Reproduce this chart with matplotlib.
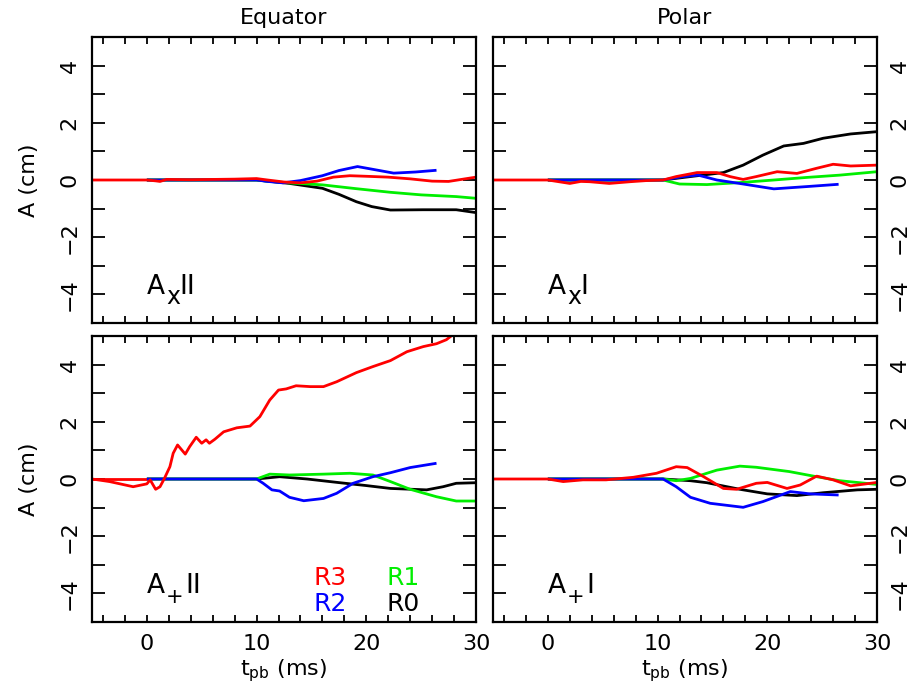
import matplotlib
matplotlib.use("Agg")
import matplotlib.pyplot as plt
from matplotlib.ticker import MultipleLocator
from matplotlib.transforms import offset_copy

plt.rcParams['font.family'] = ['DejaVu Sans']
plt.rcParams['mathtext.default'] = 'regular'

RED, GREEN, BLUE, BLACK = '#ff0000', '#00ee00', '#0000ff', '#000000'

# ---------------- Equator, A_x ----------------
eqx_r3_t = [-5, -3, 0, 0.8, 1.2, 1.8, 4, 6, 8, 10, 11, 12.5, 14, 15.5, 17, 18.5, 20, 22, 24, 26, 27.5, 30]
eqx_r3_a = [0, 0, 0, -0.03, -0.05, 0.02, 0.01, 0.02, 0.03, 0.05, 0.0, -0.07, -0.1, -0.04, 0.1, 0.15, 0.13, 0.1, 0.04, -0.04, -0.05, 0.1]
eqx_r2_t = [0, 5, 10, 11, 12.4, 14, 16, 17.5, 19.2, 20.5, 22.5, 24.5, 26.4]
eqx_r2_a = [0, 0, 0, -0.05, -0.1, -0.02, 0.15, 0.33, 0.47, 0.38, 0.24, 0.28, 0.34]
eqx_r1_t = [0, 5, 10, 11, 13, 16, 19, 22.2, 25, 28.2, 30]
eqx_r1_a = [0, 0, 0, -0.04, -0.1, -0.17, -0.3, -0.43, -0.52, -0.58, -0.64]
eqx_r0_t = [0, 5, 10, 11, 13, 16, 17.5, 19.1, 20.5, 22.2, 25.2, 28.2, 30]
eqx_r0_a = [0, 0, 0, -0.04, -0.12, -0.29, -0.5, -0.76, -0.93, -1.05, -1.04, -1.04, -1.14]

# ---------------- Polar, A_x ----------------
plx_r3_t = [-5, 0, 0.5, 2, 3, 3.8, 5, 5.6, 7.5, 9, 10.5, 11.7, 13.6, 15.4, 16.6, 17.8, 19, 20.9, 22.7, 24.5, 26, 27.6, 30]
plx_r3_a = [0, 0, -0.03, -0.12, -0.05, -0.06, -0.1, -0.12, -0.06, -0.02, 0, 0.12, 0.26, 0.26, 0.12, 0.02, 0.12, 0.29, 0.23, 0.41, 0.55, 0.49, 0.52]
plx_r2_t = [0, 5, 10.5, 12.3, 13.7, 15.4, 17.8, 20.6, 23.6, 26.5]
plx_r2_a = [0, 0, 0, 0.12, 0.17, 0.0, -0.14, -0.31, -0.23, -0.15]
plx_r1_t = [0, 5, 10.5, 12, 14.5, 17.5, 20.6, 23.6, 26.6, 30]
plx_r1_a = [0, 0, 0, -0.14, -0.16, -0.09, 0, 0.09, 0.17, 0.29]
plx_r0_t = [0, 5, 10.5, 13, 16, 17.8, 19.6, 21.5, 23.3, 25.1, 27.6, 30]
plx_r0_a = [0, 0, 0, 0.12, 0.26, 0.52, 0.87, 1.19, 1.28, 1.46, 1.61, 1.69]

# ---------------- Equator, A_+ ----------------
eqp_r3_pre_t = [-5, 0]
eqp_r3_pre_a = [0, 0]
eqp_r3_t = [-5, -3.4, -1.25, 0, 0.3, 0.8, 1.2, 1.6, 2.1, 2.4, 2.8, 3.5, 3.9, 4.5, 5.0, 5.4, 5.7, 6.2, 7.0, 8.2, 9.4,
            10.3, 11.2, 12.0, 12.7, 13.6, 14.9, 16.1, 17.3, 19.1, 20.6, 22.2, 23.7, 25.2, 26.4, 27.3, 27.9]
eqp_r3_a = [0, -0.09, -0.27, -0.17, -0.03, -0.36, -0.27, 0.02, 0.43, 0.9, 1.19, 0.87, 1.13, 1.46, 1.25, 1.37, 1.25, 1.39,
            1.65, 1.79, 1.85, 2.18, 2.76, 3.11, 3.15, 3.26, 3.23, 3.23, 3.4, 3.72, 3.93, 4.14, 4.45, 4.63, 4.73, 4.87, 5.05]
eqp_r2_t = [0, 5, 10, 10.6, 11.4, 12.1, 13.0, 14.3, 16.1, 17.3, 18.8, 20.6, 22.2, 24.0, 26.4]
eqp_r2_a = [0, 0, 0, -0.15, -0.38, -0.42, -0.64, -0.76, -0.68, -0.5, -0.15, 0.08, 0.22, 0.4, 0.55]
eqp_r1_t = [0, 5, 10, 11.2, 13, 16.1, 18.5, 20.6, 22.2, 24, 26.4, 28.2, 30]
eqp_r1_a = [0, 0, 0, 0.17, 0.14, 0.17, 0.2, 0.14, -0.09, -0.36, -0.62, -0.77, -0.77]
eqp_r0_t = [0, 5, 10, 12.1, 14.6, 17.6, 20.0, 22.2, 25.5, 27, 28.2, 30]
eqp_r0_a = [0, 0, 0, 0.08, 0, -0.13, -0.23, -0.33, -0.38, -0.27, -0.15, -0.13]

# ---------------- Polar, A_+ ----------------
plp_r3_t = [-5, 0, 1.4, 3.2, 5.3, 7.8, 9.9, 11.7, 12.7, 14.2, 16, 17.2, 19, 20, 21.8, 23, 24.5, 26, 27.6, 30]
plp_r3_a = [0, 0, -0.09, -0.03, -0.03, 0.06, 0.2, 0.43, 0.4, 0.08, -0.33, -0.36, -0.15, -0.12, -0.33, -0.21, 0.1, -0.03, -0.24, -0.12]
plp_r2_t = [0, 5, 10.5, 11.7, 13, 14.8, 17.8, 19.6, 22.1, 23.9, 26.5]
plp_r2_a = [0, 0, 0, -0.27, -0.64, -0.85, -0.99, -0.79, -0.44, -0.52, -0.56]
plp_r1_t = [0, 5, 10.5, 11.7, 13, 15.4, 17.5, 19, 22, 24.5, 26.6, 30]
plp_r1_a = [0, 0, 0, -0.06, 0.02, 0.31, 0.45, 0.41, 0.26, 0.08, -0.06, -0.19]
plp_r0_t = [0, 5, 10.5, 13, 14.5, 17.5, 20, 22.7, 25.1, 28.2, 30]
plp_r0_a = [0, 0, 0, -0.06, -0.13, -0.36, -0.52, -0.58, -0.48, -0.38, -0.36]

titles = ['Equator', 'Polar']
label_main = ['A', 'A', 'A', 'A']
label_sub = ['x', 'x', '+', '+']
label_tail = ['II', 'I', 'II', 'I']
legend_names = ['R3', 'R2', 'R1', 'R0']
x_ticks = [0, 10, 20, 30]
y_ticks = [-4, -2, 0, 2, 4]

panels = [
    [(eqx_r0_t, eqx_r0_a, BLACK), (eqx_r1_t, eqx_r1_a, GREEN), (eqx_r2_t, eqx_r2_a, BLUE), (eqx_r3_t, eqx_r3_a, RED)],
    [(plx_r0_t, plx_r0_a, BLACK), (plx_r1_t, plx_r1_a, GREEN), (plx_r2_t, plx_r2_a, BLUE), (plx_r3_t, plx_r3_a, RED)],
    [(eqp_r0_t, eqp_r0_a, BLACK), (eqp_r1_t, eqp_r1_a, GREEN), (eqp_r3_pre_t, eqp_r3_pre_a, RED),
     (eqp_r2_t, eqp_r2_a, BLUE), (eqp_r3_t, eqp_r3_a, RED)],
    [(plp_r0_t, plp_r0_a, BLACK), (plp_r1_t, plp_r1_a, GREEN), (plp_r2_t, plp_r2_a, BLUE), (plp_r3_t, plp_r3_a, RED)],
]

W, H = 913, 698
fig = plt.figure(figsize=(W / 100, H / 100), dpi=100)
lefts = [92, 493]
tops = [37, 336]
pw, ph = 384, 286
FS = 16
PX = 0.72  # points per pixel at 100 dpi
sub_size = [FS + 1, FS + 1, FS - 1, FS - 1]
tail_off = [32, 32, 38, 38]

for i in range(4):
    row, col = divmod(i, 2)
    x0 = lefts[col]
    y0 = tops[row]
    ax = fig.add_axes([x0 / W, 1 - (y0 + ph) / H, pw / W, ph / H])
    for t, a, c in panels[i]:
        ax.plot(t, a, color=c, lw=2.0, solid_capstyle='butt')
    ax.set_xlim(-5, 30)
    ax.set_ylim(-5, 5)
    ax.set_xticks(x_ticks)
    ax.set_yticks(y_ticks)
    ax.xaxis.set_minor_locator(MultipleLocator(2))
    ax.yaxis.set_minor_locator(MultipleLocator(1))
    for s in ax.spines.values():
        s.set_linewidth(1.6)
    ax.tick_params(axis='x', which='both', direction='in', top=True, bottom=True,
                   length=5, width=1.3, pad=9, labelsize=FS)
    ax.tick_params(axis='y', which='both', direction='in', left=True, right=True,
                   length=9.5, width=1.3, labelsize=FS)
    if row == 0:
        ax.tick_params(axis='x', labelbottom=False)
        ax.set_title(titles[col], fontsize=FS, pad=9)
    else:
        ax.set_xlabel(r'$t_{pb}$ (ms)', fontsize=FS, labelpad=2)
    if col == 0:
        ax.tick_params(axis='y', labelleft=True, labelright=False, pad=9)
        ax.set_ylabel('A (cm)', fontsize=FS, labelpad=15)
    else:
        ax.tick_params(axis='y', labelleft=False, labelright=True, pad=9)
    for lab in ax.get_yticklabels():
        lab.set_rotation(90)
        lab.set_va('center')
    # panel label: A with a large, low subscript, then I / II
    ax.text(0.143, 0.1, label_main[i], transform=ax.transAxes, fontsize=FS + 3,
            ha='left', va='baseline')
    sub_tr = offset_copy(ax.transAxes, fig=fig, x=19 * PX, y=-10 * PX, units='points')
    ax.text(0.143, 0.1, label_sub[i], transform=sub_tr, fontsize=sub_size[i],
            ha='left', va='baseline')
    tail_tr = offset_copy(ax.transAxes, fig=fig, x=tail_off[i] * PX, y=0, units='points')
    ax.text(0.143, 0.1, label_tail[i], transform=tail_tr, fontsize=FS + 3,
            ha='left', va='baseline')
    if i == 2:
        ax.text(0.576, 0.13, legend_names[0], color=RED, transform=ax.transAxes, fontsize=FS + 2, va='baseline')
        ax.text(0.576, 0.04, legend_names[1], color=BLUE, transform=ax.transAxes, fontsize=FS + 2, va='baseline')
        ax.text(0.768, 0.13, legend_names[2], color=GREEN, transform=ax.transAxes, fontsize=FS + 2, va='baseline')
        ax.text(0.768, 0.04, legend_names[3], color=BLACK, transform=ax.transAxes, fontsize=FS + 2, va='baseline')

fig.savefig('out.png', dpi=100)
